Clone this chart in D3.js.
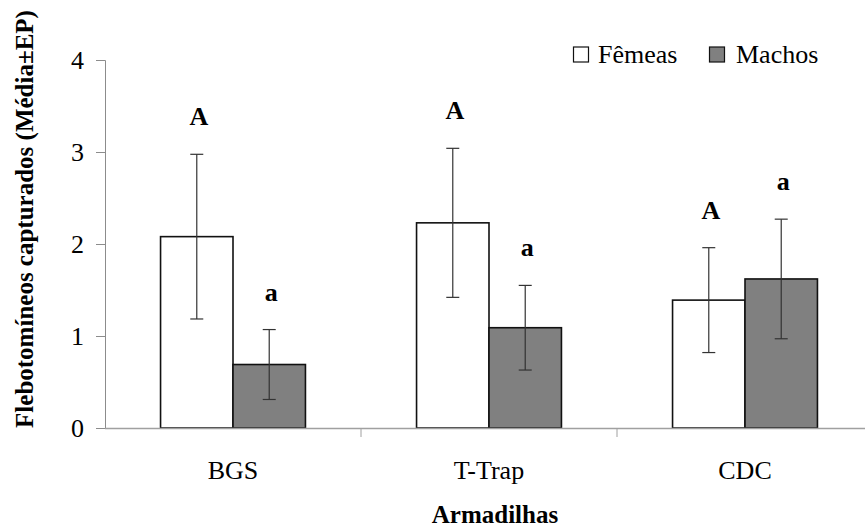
<!DOCTYPE html>
<html>
<head>
<meta charset="utf-8">
<script src="https://cdn.jsdelivr.net/npm/d3@7"></script>
<style>
  html, body { margin: 0; padding: 0; background: #fff; }
  svg { display: block; font-family: "Liberation Serif", "Times New Roman", serif; }
</style>
</head>
<body>
<svg id="chart" width="865" height="531"></svg>
<script>
// Traps and sexes
const categories = ["BGS", "T-Trap", "CDC"];
const series = ["Fêmeas", "Machos"];

// Mean sand flies captured and standard error, per trap
const femeasMean = [2.08, 2.23, 1.39];
const femeasSE   = [0.895, 0.81, 0.57];
const machosMean = [0.69, 1.09, 1.62];
const machosSE   = [0.38, 0.46, 0.65];

// Significance letters
const femeasLetters = ["A", "A", "A"];
const machosLetters = ["a", "a", "a"];

const yTicks = [0, 1, 2, 3, 4];

const svg = d3.select("#chart");
const W = 865, H = 531;
const plotLeft = 105, plotRight = 873, plotTop = 60, plotBottom = 428;

const x = d3.scaleBand().domain(categories).range([plotLeft, plotRight])
  .paddingInner(0.434).paddingOuter(0.217);
const xs = d3.scaleBand().domain(series).range([0, x.bandwidth()]);
const y = d3.scaleLinear().domain([0, 4]).range([plotBottom, plotTop]);

const fills = { "Fêmeas": "#ffffff", "Machos": "#808080" };

const rows = [];
categories.forEach((c, i) => {
  rows.push({ cat: c, s: "Fêmeas", v: femeasMean[i], se: femeasSE[i], letter: femeasLetters[i] });
  rows.push({ cat: c, s: "Machos", v: machosMean[i], se: machosSE[i], letter: machosLetters[i] });
});

// Y axis
const yAxis = svg.append("g")
  .attr("transform", `translate(${plotLeft},0)`)
  .call(d3.axisLeft(y).tickValues(yTicks).tickFormat(d3.format("d")).tickSize(9).tickPadding(12));
yAxis.select(".domain").attr("stroke", "#8c8c8c");
yAxis.selectAll(".tick line").attr("stroke", "#8c8c8c");
yAxis.selectAll(".tick text").attr("font-size", 26).attr("fill", "#000")
  .attr("font-family", "Liberation Serif");

// Bars
svg.append("g").selectAll("rect").data(rows).join("rect")
  .attr("x", d => x(d.cat) + xs(d.s))
  .attr("y", d => y(d.v))
  .attr("width", xs.bandwidth())
  .attr("height", d => y(0) - y(d.v))
  .attr("fill", d => fills[d.s])
  .attr("stroke", "#111")
  .attr("stroke-width", 1.6);

// X axis
const xAxis = svg.append("g")
  .attr("transform", `translate(0,${plotBottom})`)
  .call(d3.axisBottom(x).tickSize(0).tickPadding(33).tickSizeOuter(0));
xAxis.select(".domain").attr("stroke", "#a0a0a0").attr("stroke-width", 1.5)
  .attr("d", `M${plotLeft},0.5H${W}`);
xAxis.selectAll(".tick text").attr("font-size", 26).attr("fill", "#000")
  .attr("font-family", "Liberation Serif");
// Category boundary ticks
const bounds = d3.range(1, categories.length).map(i => plotLeft + i * x.step());
xAxis.selectAll(".bound").data(bounds).join("line")
  .attr("class", "bound")
  .attr("x1", d => d).attr("x2", d => d)
  .attr("y1", 0).attr("y2", 9)
  .attr("stroke", "#a0a0a0");

// Error bars
const eb = svg.append("g").attr("stroke", "#333").attr("stroke-width", 1.2);
rows.forEach(d => {
  const cx = x(d.cat) + xs(d.s) + xs.bandwidth() / 2;
  const y1 = y(d.v + d.se), y2 = y(d.v - d.se);
  eb.append("line").attr("x1", cx).attr("x2", cx).attr("y1", y1).attr("y2", y2);
  eb.append("line").attr("x1", cx - 6.5).attr("x2", cx + 6.5).attr("y1", y1).attr("y2", y1);
  eb.append("line").attr("x1", cx - 6.5).attr("x2", cx + 6.5).attr("y1", y2).attr("y2", y2);
});

// Letters above the error bars
svg.append("g").selectAll("text").data(rows).join("text")
  .attr("x", d => x(d.cat) + xs(d.s) + xs.bandwidth() / 2 + 2)
  .attr("y", d => y(d.v + d.se) - 29)
  .attr("text-anchor", "middle")
  .attr("font-weight", "bold")
  .attr("font-size", 26)
  .text(d => d.letter);

// Legend
const legendX = [573.5, 709.5];
const legendTextX = [598, 736];
const lg = svg.append("g");
series.forEach((s, i) => {
  lg.append("rect").attr("x", legendX[i]).attr("y", 47).attr("width", 15).attr("height", 15)
    .attr("fill", fills[s]).attr("stroke", "#111").attr("stroke-width", 1.2);
  lg.append("text").attr("x", legendTextX[i]).attr("y", 63)
    .attr("font-size", 26).text(s);
});

// Axis titles
svg.append("text")
  .attr("x", 495).attr("y", 523)
  .attr("text-anchor", "middle")
  .attr("font-weight", "bold").attr("font-size", 25)
  .text("Armadilhas");

svg.append("text")
  .attr("transform", "translate(33,219) rotate(-90)")
  .attr("text-anchor", "middle")
  .attr("font-weight", "bold").attr("font-size", 25)
  .text("Flebotomíneos capturados (Média±EP)");
</script>
</body>
</html>
